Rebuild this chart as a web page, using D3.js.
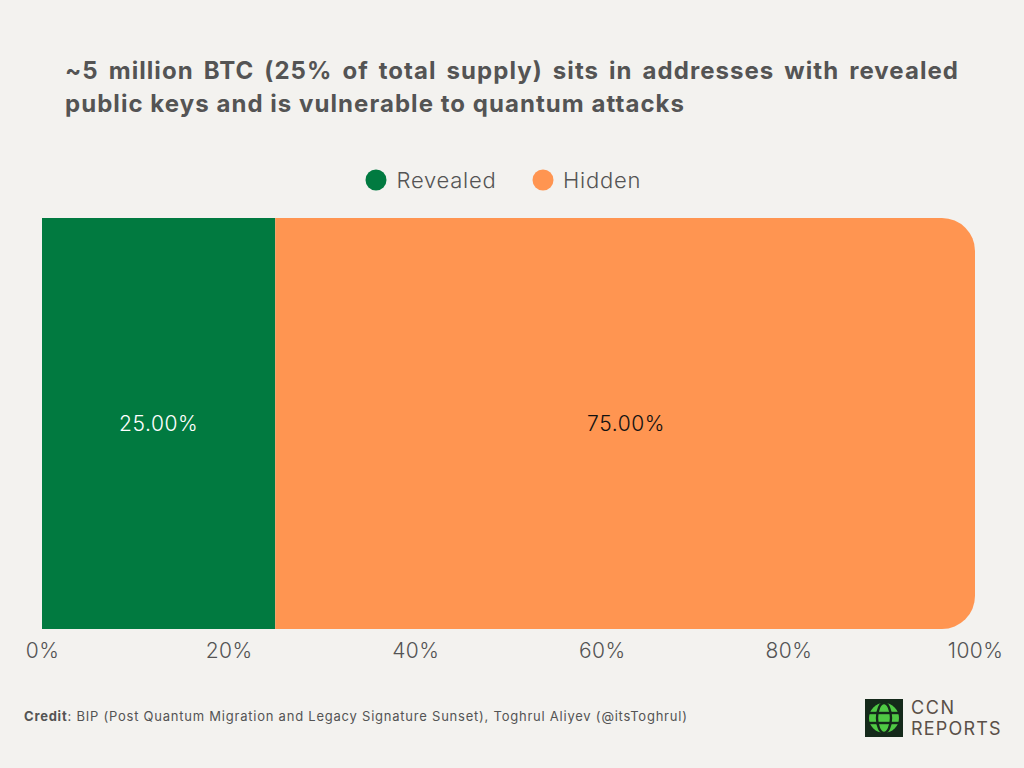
<!DOCTYPE html>
<html><head><meta charset="utf-8">
<style>html,body{margin:0;padding:0;background:#f3f2ef;overflow:hidden}svg{display:block}text{font-family:Inter,"Noto Sans",sans-serif}</style>
<script src="https://cdn.jsdelivr.net/npm/d3@7"></script></head><body>
<script>
const seriesNames=["Revealed","Hidden"];
const seriesValues=[25,75];
const seriesColors=["#017a40","#ff9551"];
const valueLabels=["25.00%","75.00%"];
const labelColors=["#ffffff","#111111"];
const tickValues=[0,20,40,60,80,100];
const titleLines=["~5 million BTC (25% of total supply) sits in addresses with revealed","public keys and is vulnerable to quantum attacks"];
const W=1024,H=768;
const svg=d3.select("body").append("svg").attr("width",W).attr("height",H);
svg.append("rect").attr("width",W).attr("height",H).attr("fill","#f3f2ef");
const x=d3.scaleLinear().domain([0,100]).range([42,975]);
const y=d3.scaleLinear().domain([0,1]).range([629,218]);
// title
const t1=svg.append("text").attr("x",65).attr("y",79).attr("font-size",24).attr("font-weight",700).attr("letter-spacing",1.05).attr("fill","#545454").text(titleLines[0]);
const len=t1.node().getComputedTextLength();
t1.attr("word-spacing",(959-65-len)/(titleLines[0].split(" ").length-1));
svg.append("text").attr("x",65).attr("y",112).attr("font-size",24).attr("font-weight",700).attr("letter-spacing",1.05).attr("fill","#545454").text(titleLines[1]);
// legend
const legendX=[376,543],legendTextX=[396.5,563];
seriesNames.forEach((n,i)=>{
  svg.append("circle").attr("cx",legendX[i]).attr("cy",180).attr("r",10.5).attr("fill",seriesColors[i]);
  svg.append("text").attr("x",legendTextX[i]).attr("y",188).attr("font-size",22).attr("font-weight",300).attr("letter-spacing",0.75).attr("fill","#545454").text(n);
});
// bars
let cum=0;
const r=33;
seriesValues.forEach((v,i)=>{
  const x0=x(cum),x1=x(cum+v),yt=y(1),yb=y(0);
  cum+=v;
  if(i===seriesValues.length-1){
    const p=d3.path();
    p.moveTo(x0,yt);p.lineTo(x1-r,yt);p.arcTo(x1,yt,x1,yt+r,r);p.lineTo(x1,yb-r);p.arcTo(x1,yb,x1-r,yb,r);p.lineTo(x0,yb);p.closePath();
    svg.append("path").attr("d",p.toString()).attr("fill",seriesColors[i]);
  } else {
    svg.append("rect").attr("x",x0).attr("y",yt).attr("width",x1-x0).attr("height",yb-yt).attr("fill",seriesColors[i]);
  }
  svg.append("text").attr("x",(x0+x1)/2+(i===1?1:0)).attr("y",431).attr("text-anchor","middle").attr("font-size",21).attr("font-weight",300).attr("letter-spacing",0.6).attr("fill",labelColors[i]).text(valueLabels[i]);
});
// axis
const axis=d3.axisBottom(x).tickValues(tickValues).tickFormat(d=>d+"%").tickSize(0).tickPadding(0);
const ag=svg.append("g").attr("transform","translate(0,638)").call(axis);
ag.select(".domain").remove();
ag.selectAll("text").attr("font-size",21).attr("font-weight",300).attr("letter-spacing",0.4).attr("fill","#545454").attr("y",1).attr("dy","0.9em").style("font-family","Inter");
// credit
const c=svg.append("text").attr("x",24).attr("y",721).attr("font-size",13).attr("letter-spacing",0.77).attr("fill","#545454");
c.append("tspan").attr("font-weight",700).text("Credit");
c.append("tspan").text(": BIP (Post Quantum Migration and Legacy Signature Sunset), Toghrul Aliyev (@itsToghrul)");
// logo
const lg=svg.append("g");
lg.append("rect").attr("x",865).attr("y",699).attr("width",38).attr("height",38).attr("fill","#14291a");
const cx=884,cy=718,R=15;
lg.append("circle").attr("cx",cx).attr("cy",cy).attr("r",R).attr("fill","#4fc944");
lg.append("ellipse").attr("cx",cx).attr("cy",cy).attr("rx",7).attr("ry",R).attr("fill","none").attr("stroke","#14291a").attr("stroke-width",2.4);
lg.append("line").attr("x1",cx-R).attr("x2",cx+R).attr("y1",cy-5).attr("y2",cy-5).attr("stroke","#14291a").attr("stroke-width",2.4);
lg.append("line").attr("x1",cx-R).attr("x2",cx+R).attr("y1",cy+5).attr("y2",cy+5).attr("stroke","#14291a").attr("stroke-width",2.4);
lg.append("text").attr("x",911).attr("y",714).attr("font-size",18).attr("font-weight",400).attr("letter-spacing",1.6).attr("fill","#5a5048").text("CCN");
lg.append("text").attr("x",911).attr("y",735).attr("font-size",18).attr("font-weight",400).attr("letter-spacing",1.2).attr("fill","#5a5048").text("REPORTS");
</script></body></html>
